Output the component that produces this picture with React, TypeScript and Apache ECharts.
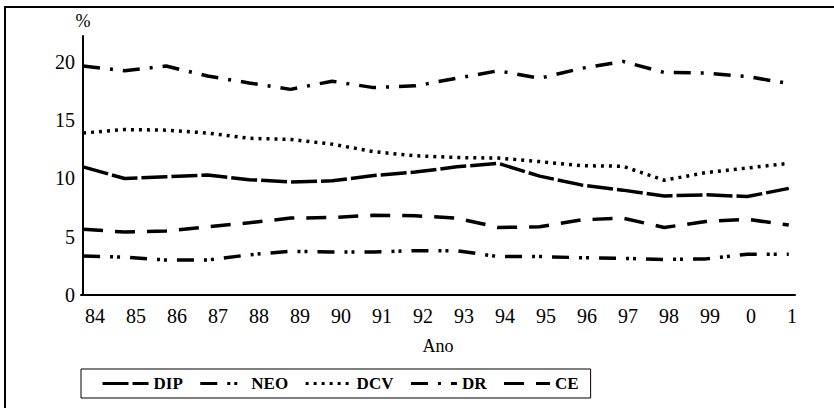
import React, { useEffect, useRef } from "react";
import * as echarts from "echarts";

const years = ["84", "85", "86", "87", "88", "89", "90", "91", "92", "93", "94", "95", "96", "97", "98", "99", "0", "1"];
const dip = [11.0, 10.0, 10.15, 10.3, 9.9, 9.7, 9.8, 10.25, 10.55, 11.0, 11.3, 10.2, 9.45, 9.0, 8.5, 8.6, 8.45, 9.15];
const neo = [3.35, 3.25, 3.0, 3.0, 3.45, 3.75, 3.7, 3.7, 3.8, 3.8, 3.3, 3.3, 3.2, 3.15, 3.05, 3.1, 3.5, 3.5];
const dcv = [13.9, 14.2, 14.15, 13.9, 13.45, 13.35, 12.95, 12.3, 11.95, 11.8, 11.75, 11.45, 11.1, 11.05, 9.85, 10.5, 10.9, 11.3];
const dr = [19.65, 19.25, 19.65, 18.8, 18.2, 17.65, 18.35, 17.8, 17.95, 18.6, 19.25, 18.6, 19.45, 20.05, 19.1, 19.05, 18.75, 18.15];
const ce = [5.65, 5.4, 5.5, 5.85, 6.2, 6.6, 6.65, 6.85, 6.8, 6.6, 5.8, 5.85, 6.45, 6.6, 5.8, 6.3, 6.5, 6.0];

const seriesNames = ["DIP", "NEO", "DCV", "DR", "CE"];
const seriesValues = [dip, neo, dcv, dr, ce];
const dashes: number[][] = [
  [26, 4],
  [17, 10, 3, 4, 3, 10],
  [3, 5],
  [17, 10, 3, 10],
  [20, 12],
];

const FONT = "Liberation Serif";

export default function App() {
  const ref = useRef<HTMLDivElement>(null);
  useEffect(() => {
    if (!ref.current) return;
    const chart = echarts.init(ref.current, undefined, { renderer: "svg" });
    const series = seriesNames.map((name, k) => ({
      name,
      type: "line",
      xAxisIndex: 0,
      yAxisIndex: 0,
      symbol: "none",
      data: seriesValues[k].map((v, i) => [i, v]),
      lineStyle: { color: "#000", width: 3.5, type: dashes[k], cap: "butt" },
      itemStyle: { color: "#000" },
    }));
    chart.setOption({
      animation: false,
      backgroundColor: "#fff",
      textStyle: { fontFamily: FONT, color: "#000" },
      grid: [
        { left: 81, right: 39, top: 36, bottom: 113 },
        { left: 95, right: 42, top: 36, bottom: 113 },
      ],
      xAxis: [
        {
          type: "value",
          gridIndex: 0,
          min: -0.05,
          max: 17.15,
          axisLine: { show: true, lineStyle: { color: "#000", width: 2 } },
          axisTick: { show: false },
          axisLabel: { show: false },
          splitLine: { show: false },
          name: "Ano",
          nameLocation: "middle",
          nameGap: 42,
          nameTextStyle: { fontFamily: FONT, fontSize: 18, color: "#000" },
        },
        {
          type: "category",
          gridIndex: 1,
          data: years,
          boundaryGap: false,
          axisLine: { show: false },
          axisTick: { show: false },
          splitLine: { show: false },
          axisLabel: { fontFamily: FONT, fontSize: 20, color: "#000", margin: 11, interval: 0 },
        },
      ],
      yAxis: [
        {
          type: "value",
          gridIndex: 0,
          min: 0,
          max: 22.23,
          interval: 5,
          axisLine: { show: true, lineStyle: { color: "#000", width: 2 } },
          axisTick: { show: false },
          splitLine: { show: false },
          axisLabel: { fontFamily: FONT, fontSize: 20, color: "#000", margin: 6, showMaxLabel: false },
          name: "%",
          nameLocation: "end",
          nameGap: 6,
          nameTextStyle: { fontFamily: FONT, fontSize: 18, color: "#000" },
        },
        { type: "value", gridIndex: 1, show: false, min: 0, max: 22.23 },
      ],
      legend: {
        data: seriesNames,
        left: 81,
        top: 369,
        orient: "horizontal",
        borderColor: "#000",
        borderWidth: 1,
        padding: [6, 12, 6, 20],
        itemWidth: 46,
        itemHeight: 14,
        itemGap: 16,
        itemStyle: { opacity: 0 },
        lineStyle: { width: 3 },
        textStyle: { fontFamily: FONT, fontSize: 17, color: "#000", fontWeight: "bold" },
      },
      graphic: [
        {
          type: "rect",
          shape: { x: 5, y: 7, width: 860, height: 440 },
          style: { fill: "none", stroke: "#000", lineWidth: 2 },
          silent: true,
        },
      ],
      series,
    });
    return () => chart.dispose();
  }, []);
  return (
    <div
      ref={ref}
      style={{ position: "fixed", left: 0, top: 0, width: 834, height: 408 }}
    />
  );
}
